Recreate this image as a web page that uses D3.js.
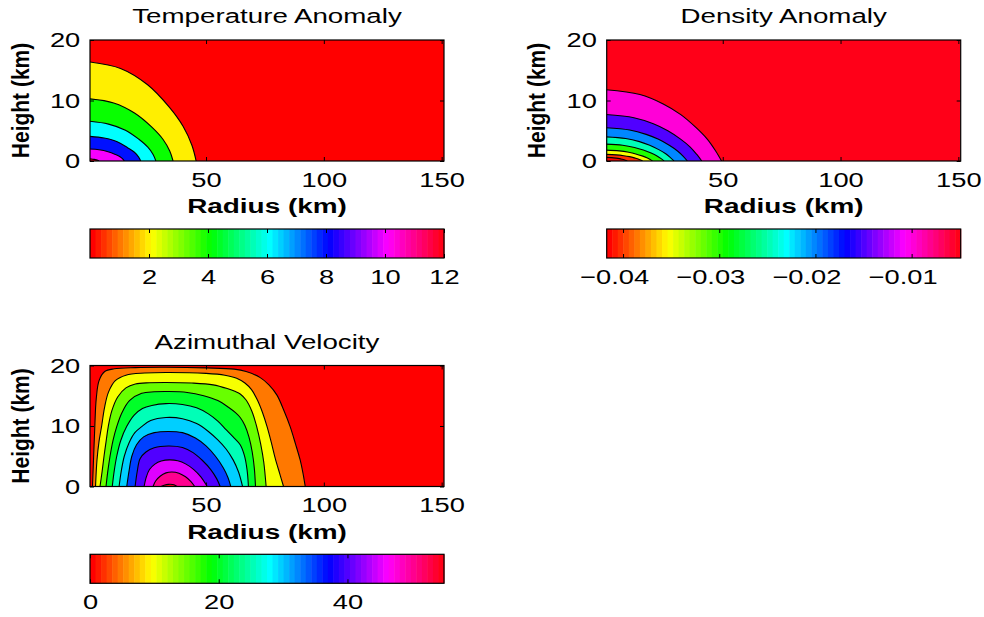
<!DOCTYPE html>
<html>
<head>
<meta charset="utf-8">
<script src="https://cdn.jsdelivr.net/npm/d3@7"></script>
<style>
  body { margin: 0; background: #fff; }
  text { font-family: "Liberation Sans", Arial, Helvetica, sans-serif; }
</style>
</head>
<body>
<svg id="fig" width="984" height="617"></svg>
<script>
// ---- data (radius km, height km) ----
var radiusTicks = [50, 100, 150];
var heightTicks = [0, 10, 20];

var tempLevels = [2, 4, 6, 8, 10, 12];
var tempLimits = [0, 12];
var tempBarTicks = [2, 4, 6, 8, 10, 12];
var tempContours = [
  [[0,16.4],[13.7,15.3],[25.2,12.6],[34.4,8.9],[40.3,5.7],[44,2.6],[45.8,0]],
  [[0,10.3],[10.8,9.6],[19.8,7.9],[27,5.6],[31.7,3.6],[34.6,1.65],[36,0]],
  [[0,6.6],[8.6,6.1],[15.8,5.1],[21.5,3.6],[25.3,2.3],[27.6,1.05],[28.7,0]],
  [[0,4.1],[6.7,3.8],[12.3,3.2],[16.7,2.2],[19.6,1.45],[21.4,0.65],[22.3,0]],
  [[0,2.0],[4.6,1.86],[8.4,1.54],[11.5,1.08],[13.5,0.7],[14.7,0.32],[15.3,0]],
  [[0,0.35],[1.4,0.33],[2.5,0.27],[3.4,0.19],[4.0,0.12],[4.4,0.05],[4.6,0]]
];

var densLevels = [-0.005, -0.01, -0.015, -0.02, -0.025, -0.03, -0.035, -0.04];
var densLimits = [-0.0417, -0.0049];
var densBarTicks = [-0.04, -0.03, -0.02, -0.01];
var densContours = [
  [[0,11.8],[14.85,11.0],[24.75,9.44],[32.2,7.67],[38.6,5.55],[43.6,3.54],[47.0,1.65],[49.5,0]],
  [[0,7.7],[12.3,7.16],[20.55,6.16],[26.7,5.0],[32.1,3.62],[36.2,2.31],[39.0,1.08],[41.1,0]],
  [[0,5.5],[10.5,5.12],[17.5,4.4],[22.75,3.58],[27.3,2.59],[30.8,1.65],[33.25,0.77],[35,0]],
  [[0,4.0],[8.8,3.72],[14.65,3.2],[19.0,2.6],[22.85,1.88],[25.8,1.2],[27.8,0.56],[29.3,0]],
  [[0,2.8],[7.5,2.6],[12.55,2.24],[16.3,1.82],[19.6,1.32],[22.1,0.84],[23.85,0.39],[25.1,0]],
  [[0,1.8],[6.06,1.67],[10.1,1.44],[13.1,1.17],[15.75,0.85],[17.8,0.54],[19.2,0.25],[20.2,0]],
  [[0,1.1],[4.8,1.02],[8,0.88],[10.4,0.72],[12.5,0.52],[14.1,0.33],[15.2,0.15],[16,0]],
  [[0,0.6],[2.85,0.56],[4.75,0.48],[6.2,0.39],[7.4,0.28],[8.4,0.18],[9.0,0.08],[9.5,0]]
];

var velLevels = [5, 10, 15, 20, 25, 30, 35, 40, 45, 50, 55];
var velLimits = [0, 55];
var velBarTicks = [0, 20, 40];
var velContours = [
  [[1.8,0],[2.3,5],[2.8,10],[3.4,14.5],[4.6,17.5],[7,19],[11,19.45],[20,19.65],[33,19.7],[50,19.6],[62,19.4],[67,19.0],[73,18.0],[76.7,16.8],[80.1,15.1],[83,12.6],[85.7,9.9],[88,7],[90,4.3],[91.2,2.1],[92.1,0]],
  [[3.1,0],[3.7,4.3],[4.6,7.5],[5.7,10],[6.9,13],[8.6,15.6],[11.5,17.5],[16,18.4],[24,18.75],[33,18.85],[50,18.7],[58,18.4],[63,17.9],[66.5,17.1],[69.3,16],[71.8,14.3],[74,12.2],[75.9,9.9],[77.7,7.3],[79.4,4.6],[81.3,2.1],[82.9,0]],
  [[5.0,0],[5.9,2.5],[6.7,5],[7.6,7.5],[8.5,9.9],[10,12.5],[12.5,14.8],[16,16.3],[20,16.95],[26,17.15],[33,17.2],[44,17.1],[53,16.8],[59,16.2],[62.5,15.7],[64.5,15.3],[67,14.3],[69.5,12.4],[71.5,9.9],[73.2,7],[74.5,4],[75.5,0]],
  [[7.55,0],[8.3,2.5],[9.25,5],[10.5,7.6],[12.1,9.9],[14.3,12.2],[17.5,14.2],[22.7,15.4],[28,15.65],[34,15.7],[42,15.55],[49,15],[55,14.2],[59.5,13.1],[62.5,12.2],[64.5,11.4],[66.5,10.1],[68.2,8.2],[69.6,5.7],[70.5,3],[71,0]],
  [[10.2,0],[11,2.5],[12.1,5],[13.8,7.6],[16.3,9.9],[19.5,11.8],[23,12.9],[27,13.4],[33,13.7],[40,13.55],[46,13],[51,12],[55,10.8],[58.5,9.4],[61.5,8.2],[64.5,6.9],[66.3,5.1],[67.4,2.8],[68,0]],
  [[13.1,0],[14,2.5],[15.3,5],[17.3,7.2],[19.8,8.9],[22.7,9.9],[26.5,10.9],[33,11.4],[40,11.2],[46,10.4],[51,9.1],[55,7.7],[58.5,6.2],[61.5,4.4],[63.8,2.4],[65.5,0]],
  [[16.35,0],[17.3,2.5],[18.5,5],[20.5,6.9],[23.5,8.2],[28,8.9],[34,9.1],[40,8.9],[45.5,8],[50,6.7],[54,5],[57.3,3.1],[59.3,1.5],[60.5,0]],
  [[19.9,0],[20.8,2.5],[22,4.6],[24.5,5.7],[28,6.4],[34,6.7],[40,6.45],[44.5,5.6],[48.5,4.3],[52,2.8],[54.5,1.3],[56,0]],
  [[23.7,0],[24.6,1.5],[26,2.8],[28.3,3.7],[31,4.2],[34.5,4.4],[38,4.25],[41.5,3.7],[44.8,2.8],[47.8,1.6],[50.5,0]],
  [[27.5,0],[28.6,0.9],[30.5,1.7],[33,2.25],[35.5,2.4],[38.5,2.2],[41.3,1.6],[43.6,0.8],[45.2,0]],
  [[30.9,0],[32.2,0.2],[34,0.35],[35.8,0.33],[37,0.18],[37.7,0]]
];

// ---- layout ----
var svg = d3.select("#fig");
var plotW = 354, plotH = 121, barH = 29;
var sx = 1.3; // text in the picture is stretched horizontally
var fontSize = 21;

var panels = [
  { id: "t", title: "Temperature Anomaly", left: 90, top: 40, barTop: 229,
    levels: tempLevels, contours: tempContours, limits: tempLimits,
    barTicks: tempBarTicks, fmt: d3.format("d"), labelShift: 0, arch: false },
  { id: "d", title: "Density Anomaly", left: 606.7, top: 40, barTop: 229,
    levels: densLevels, contours: densContours, limits: densLimits,
    barTicks: densBarTicks, fmt: d3.format(".2f"), labelShift: -9, arch: false },
  { id: "v", title: "Azimuthal Velocity", left: 90, top: 365.5, barTop: 554.3,
    levels: velLevels, contours: velContours, limits: velLimits,
    barTicks: velBarTicks, fmt: d3.format("d"), labelShift: 0, arch: true }
];

// MATLAB hsv(64) colormap
function cmapColor(i) { return d3.hsl(i / 64 * 360, 1, 0.5).formatHex(); }
function valueColor(v, lim) {
  var idx = Math.floor((v - lim[0]) / (lim[1] - lim[0]) * 64);
  return cmapColor(Math.max(0, Math.min(63, idx)));
}

function styleAxis(g, shift) {
  g.select(".domain").remove();
  g.attr("font-size", fontSize).attr("font-family", null);
  g.selectAll(".tick line").attr("stroke", "#000");
  g.selectAll(".tick text").attr("fill", "#000")
    .attr("transform", "translate(" + (shift || 0) + ",0) scale(" + sx + ",1)");
}

panels.forEach(function(p) {
  var g = svg.append("g").attr("class", "panel-" + p.id);
  var x = d3.scaleLinear().domain([0.75, 151]).range([p.left, p.left + plotW]);
  var y = d3.scaleLinear().domain([0, 20]).range([p.top + plotH, p.top]);

  g.append("clipPath").attr("id", "clip-" + p.id)
    .append("rect").attr("x", p.left).attr("y", p.top).attr("width", plotW).attr("height", plotH);

  var inc = p.levels[1] > p.levels[0];
  var bg = inc ? p.limits[0] : p.levels[0];
  var fills = p.levels.map(function(l, i) {
    if (inc) return l;
    return i + 1 < p.levels.length ? p.levels[i + 1] : p.limits[0];
  });

  var area = g.append("g").attr("clip-path", "url(#clip-" + p.id + ")");
  area.append("rect").attr("x", p.left).attr("y", p.top)
    .attr("width", plotW).attr("height", plotH)
    .attr("fill", valueColor(bg, p.limits));

  var line = d3.line().x(function(d) { return x(d[0]); })
    .y(function(d) { return y(d[1]); }).curve(d3.curveCatmullRom.alpha(0.5));

  area.selectAll("path.fill").data(p.contours).enter().append("path")
    .attr("class", "fill")
    .attr("d", function(c) {
      var s = line(c);
      if (!p.arch) s += "L" + x(0) + "," + y(0);
      return s + "Z";
    })
    .attr("fill", function(c, i) { return valueColor(fills[i], p.limits); });

  area.selectAll("path.iso").data(p.contours).enter().append("path")
    .attr("class", "iso")
    .attr("d", line)
    .attr("fill", "none").attr("stroke", "#000").attr("stroke-width", 1.1);

  // box and inward ticks
  g.append("rect").attr("x", p.left).attr("y", p.top)
    .attr("width", plotW).attr("height", plotH)
    .attr("fill", "none").attr("stroke", "#000").attr("stroke-width", 1.2);

  g.append("g").attr("transform", "translate(0," + (p.top + plotH) + ")")
    .call(d3.axisBottom(x).tickValues(radiusTicks).tickSizeInner(-4).tickSizeOuter(0).tickPadding(11))
    .call(styleAxis);
  g.append("g").attr("transform", "translate(0," + p.top + ")")
    .call(d3.axisTop(x).tickValues(radiusTicks).tickSizeInner(-4).tickSizeOuter(0).tickFormat(""))
    .call(styleAxis);
  g.append("g").attr("transform", "translate(" + p.left + ",0)")
    .call(d3.axisLeft(y).tickValues(heightTicks).tickSizeInner(-4).tickSizeOuter(0).tickPadding(7.5))
    .call(styleAxis);
  g.append("g").attr("transform", "translate(" + (p.left + plotW) + ",0)")
    .call(d3.axisRight(y).tickValues(heightTicks).tickSizeInner(-4).tickSizeOuter(0).tickFormat(""))
    .call(styleAxis);

  // titles and labels
  var cx = p.left + plotW / 2;
  g.append("text").attr("text-anchor", "middle").attr("font-size", fontSize)
    .attr("transform", "translate(" + cx + "," + (p.top - 17) + ") scale(1.32,1)")
    .text(p.title);
  g.append("text").attr("text-anchor", "middle").attr("font-size", fontSize).attr("font-weight", "bold")
    .attr("transform", "translate(" + cx + "," + (p.top + plotH + 52) + ") scale(1.33,1)")
    .text("Radius (km)");
  g.append("text").attr("text-anchor", "middle").attr("font-size", fontSize).attr("font-weight", "bold")
    .attr("transform", "translate(" + (p.left - 61.5) + "," + (p.top + plotH / 2) + ") scale(1.15,1) rotate(-90)")
    .text("Height (km)");

  // colorbar
  var cb = d3.scaleLinear().domain(p.limits).range([p.left, p.left + plotW]);
  var step = (p.limits[1] - p.limits[0]) / 64;
  g.append("g").selectAll("rect").data(d3.range(64)).enter().append("rect")
    .attr("x", function(i) { return cb(p.limits[0] + i * step); })
    .attr("width", function(i) { return cb(p.limits[0] + (i + 1) * step) - cb(p.limits[0] + i * step) + 0.5; })
    .attr("y", p.barTop).attr("height", barH)
    .attr("fill", function(i) { return cmapColor(i); });
  g.append("g").attr("transform", "translate(0," + (p.barTop + barH) + ")")
    .call(d3.axisBottom(cb).tickValues(p.barTicks).tickFormat(p.fmt).tickSizeInner(-4).tickSizeOuter(0).tickPadding(11))
    .call(styleAxis, p.labelShift);
  g.append("g").attr("transform", "translate(0," + p.barTop + ")")
    .call(d3.axisTop(cb).tickValues(p.barTicks).tickFormat("").tickSizeInner(-4).tickSizeOuter(0))
    .call(styleAxis);
  g.append("rect").attr("x", p.left).attr("y", p.barTop)
    .attr("width", plotW).attr("height", barH)
    .attr("fill", "none").attr("stroke", "#000").attr("stroke-width", 1.2);
});
</script>
</body>
</html>
